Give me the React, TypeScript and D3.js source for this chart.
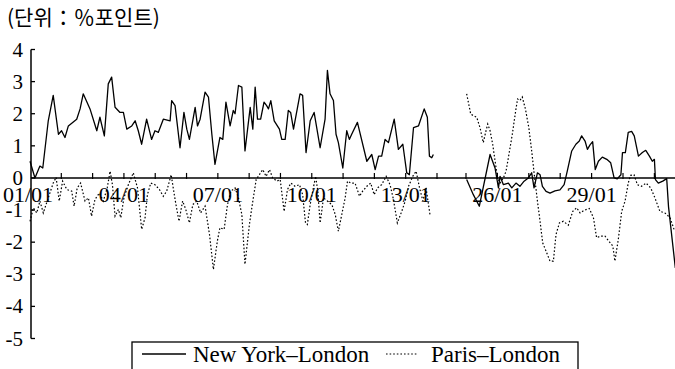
import React, { useEffect, useRef } from "react";
import * as d3 from "d3";

// months since Jan 1901 / Jan 1925, spread in % points
const nyLondonPre: [number, number][] = [
  [0, 0.52], [1.9, 0], [3.8, 0.37], [4.9, 0.31], [7, 1.78], [8.9, 2.57], [10.9, 1.36],
  [12.1, 1.47], [13.4, 1.26], [14.7, 1.62], [17.9, 1.83], [19.2, 2.15], [20.4, 2.62],
  [23, 2.15], [25.6, 1.47], [26.8, 1.89], [28.5, 1.31], [30, 2.93], [31.3, 3.14],
  [32.6, 2.2], [34.5, 2.04], [35.8, 2.04], [37.1, 1.52], [39, 1.62], [40.3, 1.78],
  [41.5, 1.47], [42.8, 1.05], [44.7, 1.83], [46.6, 1.2], [47.9, 1.47], [49.2, 1.42],
  [51.1, 1.83], [53.7, 1.78], [54.3, 2.41], [55.6, 2.25], [57.5, 0.94], [59, 2.04],
  [60.1, 1.52], [61.1, 1.2], [63.3, 2.2], [64.2, 1.62], [65.2, 1.83], [67.1, 2.67],
  [68.4, 2.52], [69.7, 1.36], [70.9, 0.42], [72.8, 1.26], [73.9, 1.2], [75.1, 2.36],
  [76.7, 1.62], [77.9, 2.1], [78.6, 2.0], [79.9, 2.88], [81.2, 2.83], [82.4, 0.84],
  [84.4, 2.2], [85.4, 1.52], [86.3, 2.83], [87.2, 1.83], [88.4, 1.83], [89.7, 2.36],
  [90.7, 2.25], [91.4, 2.15], [92.3, 2.41], [93.6, 1.78], [95.6, 1.52], [96.5, 1.2],
  [97.8, 1.2], [99, 2.1], [99.9, 2.04], [101, 1.52], [103.5, 2.62], [104.5, 2.57],
  [105.8, 0.79], [107.4, 1.78], [108.9, 2.04], [111.2, 0.94], [113.1, 1.83], [114, 3.35],
  [115, 2.62], [116.3, 2.41], [117.3, 1.36], [118.2, 1.1], [119.9, 0.31], [121.4, 1.47],
  [122.4, 1.2], [123.3, 1.36], [125.5, 1.73], [129.1, 0.52], [131, 0.73], [132.3, 0.26],
  [133.6, 0.68], [134.8, 0.68], [136.1, 1.2], [137.4, 1.1], [139.6, 1.83], [141.2, 0.89],
  [142.9, 1.05], [144.4, 0.16], [145.4, 0.1], [147, 1.57], [148.9, 1.62], [151.1, 2.15],
  [152.3, 1.89], [153.1, 0.68], [154, 0.63], [154.6, 0.73],
];

const parisLondonPre: [number, number][] = [
  [0, -1.35], [1.3, -0.93], [2.6, -1.09], [3.8, -0.72], [5.1, -1.09], [7, -0.62],
  [8.9, -0.16], [10, 0.02], [11.2, -0.72], [12.5, -0.1], [14.1, -0.36], [16, -0.41],
  [16.9, -0.88], [18.1, -0.31], [19.4, -0.16], [21.1, -0.72], [22.4, -0.62], [23.6, -1.19],
  [24.9, -0.67], [26.6, -0.47], [28.1, -0.72], [29.6, -0.31], [30.7, 0.21], [31.6, -0.21],
  [32.6, -1.19], [33.9, -0.98], [34.8, -1.24], [36, -0.62], [37.7, -0.21], [39.6, 0.16],
  [41.2, -0.31], [42.8, -1.6], [44.1, -1.24], [45, -0.52], [46.3, -0.16], [47.9, -0.21],
  [49.6, -0.36], [51.1, -0.57], [52.4, -0.41], [54.1, 0.1], [55.6, -0.67], [57.1, -1.35],
  [58.5, -0.72], [59.7, -0.98], [61.1, -1.4], [62.4, -0.83], [63.9, -0.72], [65.4, -1.09],
  [67.1, -0.88], [68.8, -1.76], [70.3, -2.85], [71.8, -1.97], [72.8, -1.55], [74.4, -1.6],
  [75.7, -0.83], [77, -0.41], [78.6, -0.31], [79.9, -0.62], [81.2, -1.14], [82.4, -2.69],
  [84.1, -1.45], [85.2, -0.83], [86.7, -0.05], [87.9, 0.1], [89.2, 0.26], [90.5, 0.05],
  [91.8, 0.26], [93, 0], [94.6, -0.1], [95.9, -0.05], [97.4, -1.04], [98.7, -0.36],
  [100, -0.16], [101.6, -0.26], [103.3, -0.21], [104.5, -0.52], [105.6, -1.4], [106.3, -1.45],
  [107.4, -0.83], [108.6, -0.31], [109.5, 0.05], [110.3, -0.41], [111.2, -1.4], [112.5, -0.62],
  [114, -0.72], [115.7, -0.83], [117, -1.14], [118.2, -1.66], [119.5, -1.14], [120.8, -0.62],
  [121.7, -0.1], [123, -0.16], [124.6, -0.16], [126.3, -0.57], [127.5, -0.41], [129.1, -0.26],
  [130.6, -0.16], [131.9, -0.52], [133.2, -0.31], [134.8, -0.21], [136.5, 0.05], [138, -0.21],
  [139.3, -0.67], [140.8, -1.4], [142.5, -1.04], [143.8, -0.72], [145.1, -0.26], [146.7, 0.05],
  [148, 0.21], [149.3, -0.31], [150.6, -0.72], [151.8, -0.31], [153.4, -1.19],
];

const nyLondonPost: [number, number][] = [
  [0.25, -0.05], [2.8, -0.52], [5.1, -0.88], [9.2, 0.73], [11.1, 0.31], [12.4, -0.31],
  [13, 0.05], [14.3, -0.21], [16.2, -0.16], [17.5, -0.31], [19.1, -0.16], [20.6, -0.26],
  [22.2, -0.1], [23.8, 0], [25.1, 0.16], [26, -0.31], [27.3, 0.16], [28.3, 0.1],
  [29.2, -0.26], [30.6, -0.42], [32.1, -0.47], [34, -0.4], [35.9, -0.37], [37.5, -0.21],
  [38.7, 0.21], [40.4, 0.84], [42, 1.05], [43.3, 1.15], [44.2, 1.31], [45.5, 1.15],
  [46.4, 0.89], [47.4, 1.03], [48.4, 1.13], [49.4, 0.26], [50.6, 0.52], [52.1, 0.65],
  [53.8, 0.58], [55.3, 0.47], [56.6, 0], [57.8, -0.03], [59.2, 0.1], [59.8, 0.79],
  [60.9, 0.79], [62, 1.42], [63.3, 1.45], [64.3, 1.31], [65.9, 0.68], [67.4, 0.79],
  [68.7, 0.86], [70.1, 0.68], [71.2, 0.52], [72, 0.58], [72.4, -0.05], [73.5, -0.16],
  [75.2, -0.1], [76.7, -0.02], [77.4, -0.9], [80, -2.8],
];

const parisLondonPost: [number, number][] = [
  [0.25, 2.62], [1.8, 1.99], [2.8, 1.94], [4.1, 1.89], [5.4, 1.55], [6.6, 1.1],
  [7.5, 1.42], [8.3, 1.68], [9.2, 1.47], [10.2, 1.05], [11.3, 0.42], [12.1, 0],
  [13, -0.16], [14.3, 0], [15.3, 0.21], [16.4, 0.73], [17.7, 1.36], [18.9, 2.04],
  [19.7, 2.46], [20.6, 2.41], [21.5, 2.52], [22.7, 2.15], [24, 1.57], [25.1, 0.84],
  [26.1, 0.1], [27.3, -0.72], [28.3, -1.35], [29.3, -2.02], [30.6, -2.28], [32.1, -2.59],
  [33.4, -2.59], [34.4, -1.76], [35.7, -1.4], [37.2, -1.35], [39.1, -1.47], [40.8, -1.04],
  [42.3, -0.93], [43.6, -1.09], [45.1, -1.01], [47.1, -0.95], [48.7, -1.24], [49.9, -1.86],
  [51.5, -1.81], [53.1, -1.81], [54.8, -1.99], [56.1, -2.12], [56.9, -2.59], [58.2, -1.92],
  [59.5, -1.04], [60.8, -0.72], [62, -0.16], [62.9, 0.08], [64.2, 0.1], [65.5, -0.21],
  [67.1, -0.26], [68.8, -0.16], [70.6, -0.31], [72.2, -0.62], [74.1, -1.04], [76, -1.09],
  [78, -1.24], [79.5, -1.6],
];

const yTicks = [4, 3, 2, 1, 0, -1, -2, -3, -4, -5];
const tickYears = [
  1902, 1903, 1904, 1905, 1906, 1907, 1908, 1909, 1910, 1911, 1912, 1913, 1914,
  1925, 1926, 1927, 1928, 1929, 1930, 1931,
];
const labelYears = [1901, 1904, 1907, 1910, 1913, 1926, 1929];
const seriesNames = ["New York–London", "Paris–London"];

const serif = "Liberation Serif, Times New Roman, DejaVu Serif, serif";

const App = () => {
  const svgRef = useRef<SVGSVGElement>(null);

  useEffect(() => {
    const width = 675;
    const height = 369;
    const svg = d3.select(svgRef.current).attr("width", width).attr("height", height);
    svg.selectAll("*").remove();

    // the war years are cut out of the time axis
    const x = d3.scaleLinear().domain([1901, 1914, 1925, 1931]).range([30, 437, 466, 654.4]);
    const y = d3.scaleLinear().domain([-5, 4]).range([338.5, 49.5]);
    const left = 31;
    const y0 = y(0);

    const pre = d3
      .line<[number, number]>()
      .x((d) => x(1901 + d[0] / 12))
      .y((d) => y(d[1]));
    const post = d3
      .line<[number, number]>()
      .x((d) => x(1925 + d[0] / 12))
      .y((d) => y(d[1]));

    // title
    svg
      .append("text")
      .attr("x", 7)
      .attr("y", 25)
      .style("font-family", "Noto Sans CJK KR, sans-serif")
      .style("font-size", "21px")
      .text("(단위：％포인트)");

    // y axis
    svg
      .append("line")
      .attr("x1", left)
      .attr("x2", left)
      .attr("y1", y(4))
      .attr("y2", y(-5))
      .attr("stroke", "#000")
      .attr("stroke-width", 1.5);
    yTicks.forEach((t) => {
      svg
        .append("line")
        .attr("x1", left)
        .attr("x2", left + 4)
        .attr("y1", y(t))
        .attr("y2", y(t))
        .attr("stroke", "#000")
        .attr("stroke-width", 1.3);
      svg
        .append("text")
        .attr("x", 23)
        .attr("y", y(t) + 7)
        .attr("text-anchor", "end")
        .style("font-family", serif)
        .style("font-size", "21px")
        .text(String(t));
    });

    // x axis
    svg
      .append("line")
      .attr("x1", left)
      .attr("x2", width)
      .attr("y1", y0)
      .attr("y2", y0)
      .attr("stroke", "#000")
      .attr("stroke-width", 1.5);
    tickYears.forEach((yr) => {
      svg
        .append("line")
        .attr("x1", x(yr))
        .attr("x2", x(yr))
        .attr("y1", y0 - 5)
        .attr("y2", y0 + 1)
        .attr("stroke", "#000")
        .attr("stroke-width", 1.2);
    });
    labelYears.forEach((yr) => {
      svg
        .append("text")
        .attr("x", x(yr) + (yr === 1901 ? -2 : 0))
        .attr("y", y0 + 24)
        .attr("text-anchor", "middle")
        .style("font-family", serif)
        .style("font-size", "22px")
        .text(`${String(yr % 100).padStart(2, "0")}/01`);
    });

    // series
    const solid = (p: string | null) =>
      svg
        .append("path")
        .attr("d", p)
        .attr("fill", "none")
        .attr("stroke", "#000")
        .attr("stroke-width", 1.3)
        .attr("stroke-linejoin", "round");
    const dotted = (p: string | null) =>
      svg
        .append("path")
        .attr("d", p)
        .attr("fill", "none")
        .attr("stroke", "#000")
        .attr("stroke-width", 1.2)
        .attr("stroke-dasharray", "1.6 2");

    dotted(pre(parisLondonPre));
    dotted(post(parisLondonPost));
    solid(pre(nyLondonPre));
    solid(post(nyLondonPost));

    // legend
    const lg = svg.append("g");
    lg.append("rect")
      .attr("x", 132)
      .attr("y", 342)
      .attr("width", 446)
      .attr("height", 40)
      .attr("fill", "none")
      .attr("stroke", "#000")
      .attr("stroke-width", 1.3);
    lg.append("line")
      .attr("x1", 142)
      .attr("x2", 186)
      .attr("y1", 354)
      .attr("y2", 354)
      .attr("stroke", "#000")
      .attr("stroke-width", 1.3);
    lg.append("text")
      .attr("x", 193)
      .attr("y", 362)
      .style("font-family", serif)
      .style("font-size", "23px")
      .text(seriesNames[0]);
    lg.append("line")
      .attr("x1", 386)
      .attr("x2", 417)
      .attr("y1", 354)
      .attr("y2", 354)
      .attr("stroke", "#000")
      .attr("stroke-width", 1.2)
      .attr("stroke-dasharray", "1.6 2");
    lg.append("text")
      .attr("x", 431)
      .attr("y", 362)
      .style("font-family", serif)
      .style("font-size", "23px")
      .text(seriesNames[1]);
  }, []);

  return (
    <div style={{ position: "fixed", left: 0, top: 0, background: "#fff" }}>
      <svg ref={svgRef} style={{ display: "block" }} />
    </div>
  );
};

export default App;
